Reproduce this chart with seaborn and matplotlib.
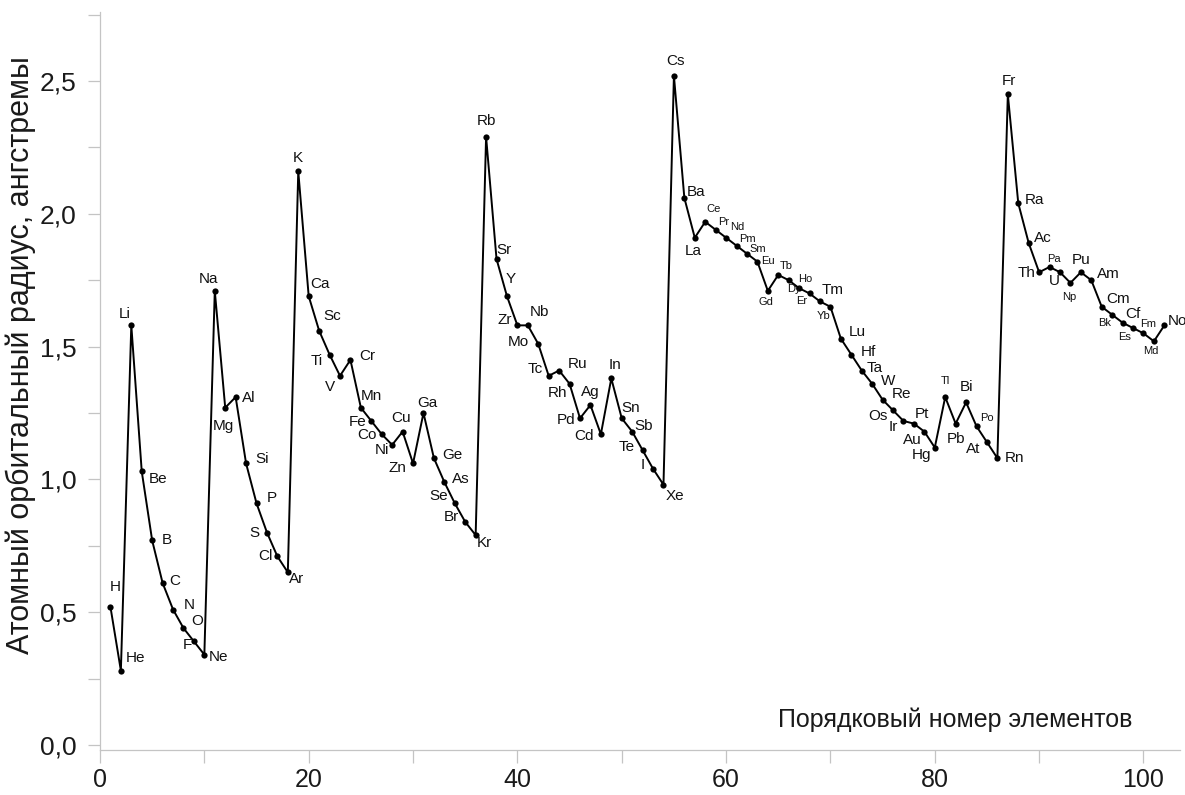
import matplotlib
matplotlib.use("Agg")
import matplotlib.pyplot as plt
from matplotlib.ticker import MultipleLocator, FuncFormatter
import seaborn as sns
import pandas as pd

# Element symbols (Z = 1 .. 102)
symbols = [
    "H", "He", "Li", "Be", "B", "C", "N", "O", "F", "Ne",
    "Na", "Mg", "Al", "Si", "P", "S", "Cl", "Ar",
    "K", "Ca", "Sc", "Ti", "V", "Cr", "Mn", "Fe", "Co", "Ni", "Cu", "Zn",
    "Ga", "Ge", "As", "Se", "Br", "Kr",
    "Rb", "Sr", "Y", "Zr", "Nb", "Mo", "Tc", "Ru", "Rh", "Pd", "Ag", "Cd",
    "In", "Sn", "Sb", "Te", "I", "Xe",
    "Cs", "Ba", "La", "Ce", "Pr", "Nd", "Pm", "Sm", "Eu", "Gd", "Tb", "Dy",
    "Ho", "Er", "Tm", "Yb", "Lu", "Hf", "Ta", "W", "Re", "Os", "Ir", "Pt",
    "Au", "Hg", "Tl", "Pb", "Bi", "Po", "At", "Rn",
    "Fr", "Ra", "Ac", "Th", "Pa", "U", "Np", "Pu", "Am", "Cm", "Bk", "Cf",
    "Es", "Fm", "Md", "No",
]

# Atomic orbital radius, angstrom
radius = [
    0.52, 0.28, 1.58, 1.03, 0.77, 0.61, 0.51, 0.44, 0.39, 0.34,
    1.71, 1.27, 1.31, 1.06, 0.91, 0.80, 0.71, 0.65,
    2.16, 1.69, 1.56, 1.47, 1.39, 1.45, 1.27, 1.22, 1.17, 1.13, 1.18, 1.06,
    1.25, 1.08, 0.99, 0.91, 0.84, 0.79,
    2.29, 1.83, 1.69, 1.58, 1.58, 1.51, 1.39, 1.41, 1.36, 1.23, 1.28, 1.17,
    1.38, 1.23, 1.18, 1.11, 1.04, 0.98,
    2.52, 2.06, 1.91, 1.97, 1.94, 1.91, 1.88, 1.85, 1.82, 1.71, 1.77, 1.75,
    1.72, 1.70, 1.67, 1.65, 1.53, 1.47, 1.41, 1.36, 1.30, 1.26, 1.22, 1.21,
    1.18, 1.12, 1.31, 1.21, 1.29, 1.20, 1.14, 1.08,
    2.45, 2.04, 1.89, 1.78, 1.80, 1.78, 1.74, 1.78, 1.75, 1.65, 1.62, 1.59,
    1.57, 1.55, 1.52, 1.58,
]

atomic_number = list(range(1, len(symbols) + 1))

x_tick_values = [0, 20, 40, 60, 80, 100]
y_tick_values = [0.0, 0.5, 1.0, 1.5, 2.0, 2.5]

x_title = "Порядковый номер элементов"
y_title = "Атомный орбитальный радиус, ангстремы"

# Label placement around each point (pixels: right, up)
label_offset = {
    "H": (5, 20), "He": (15, 13), "Li": (-7, 11), "Be": (16, -8), "B": (15, 0),
    "C": (12, 2), "N": (16, 5), "O": (14, 7), "F": (-7, -4), "Ne": (14, -2),
    "Na": (-6, 12), "Mg": (-2, -18), "Al": (13, -1), "Si": (16, 4), "P": (15, 5),
    "S": (-13, 0), "Cl": (-12, 0), "Ar": (9, -7),
    "K": (0, 13), "Ca": (11, 12), "Sc": (13, 15), "Ti": (-13, -6), "V": (-10, -11),
    "Cr": (17, 4), "Mn": (11, 12), "Fe": (-14, -1), "Co": (-15, -1), "Ni": (-10, -5),
    "Cu": (-2, 14), "Zn": (-16, -5), "Ga": (4, 10), "Ge": (18, 3), "As": (16, 3),
    "Se": (-16, 7), "Br": (-14, 5), "Kr": (9, -8),
    "Rb": (0, 16), "Sr": (7, 9), "Y": (4, 17), "Zr": (-13, 5), "Nb": (12, 13),
    "Mo": (-20, 2), "Tc": (-13, 7), "Ru": (18, 7), "Rh": (-12, -9), "Pd": (-14, -2),
    "Ag": (0, 13), "Cd": (-17, -2), "In": (4, 13), "Sn": (9, 10), "Sb": (11, 6),
    "Te": (-16, 3), "I": (-10, 4), "Xe": (11, -11),
    "Cs": (2, 15), "Ba": (12, 6), "La": (-2, -13), "Ce": (8, 13), "Pr": (8, 8),
    "Nd": (11, 11), "Pm": (11, 7), "Sm": (11, 5), "Eu": (11, 1), "Gd": (-2, -11),
    "Tb": (8, 9), "Dy": (5, -9), "Ho": (6, 9), "Er": (-8, -8), "Tm": (13, 11),
    "Yb": (-7, -9), "Lu": (16, 7), "Hf": (17, 3), "Ta": (13, 3), "W": (16, 3),
    "Re": (19, 6), "Os": (-15, -6), "Ir": (-10, -6), "Pt": (8, 10), "Au": (-12, -8),
    "Hg": (-13, -7), "Tl": (0, 16), "Pb": (0, -15), "Bi": (0, 15), "Po": (10, 8),
    "At": (-14, -7), "Rn": (17, 0),
    "Fr": (1, 13), "Ra": (16, 3), "Ac": (14, 5), "Th": (-13, -1), "Pa": (4, 8),
    "U": (-6, -9), "Np": (-1, -14), "Pu": (0, 12), "Am": (17, 6), "Cm": (16, 8),
    "Bk": (-8, -8), "Cf": (10, 9), "Es": (-8, -9), "Fm": (5, 9), "Md": (-3, -10),
    "No": (13, 4),
}
small_labels = {"Ce", "Pr", "Nd", "Pm", "Sm", "Eu", "Gd", "Tb", "Dy", "Ho", "Er",
                "Yb", "Tl", "Po", "Pa", "Np", "Bk", "Es", "Fm", "Md"}

df = pd.DataFrame({"Z": atomic_number, "r": radius, "symbol": symbols})

sns.set_style("ticks")
plt.rcParams["font.family"] = ["Liberation Sans", "DejaVu Sans"]

fig = plt.figure(figsize=(11.85, 7.95), dpi=100)
ax = fig.add_axes([100 / 1185, 45 / 795, 1080 / 1185, 738 / 795])

sns.lineplot(data=df, x="Z", y="r", ax=ax, color="black", linewidth=1.4,
             marker="o", markersize=4.5, markeredgewidth=0, sort=True)

for z, r, s in zip(df["Z"], df["r"], df["symbol"]):
    dx, dy = label_offset[s]
    ax.annotate(s, (z, r), xytext=(dx, dy), textcoords="offset pixels",
                ha="center", va="center", color="#111111",
                fontsize=8 if s in small_labels else 11)

ax.set_xlim(0, 103.5)
ax.set_ylim(-0.019, 2.76)

ax.set_xticks(x_tick_values)
ax.xaxis.set_minor_locator(MultipleLocator(10))
ax.set_yticks(y_tick_values)
ax.yaxis.set_minor_locator(MultipleLocator(0.25))
ax.yaxis.set_major_formatter(FuncFormatter(lambda v, _: f"{v:.1f}".replace(".", ",")))

spine_color = "#c4c4c4"
for side in ("top", "right"):
    ax.spines[side].set_visible(False)
for side in ("left", "bottom"):
    ax.spines[side].set_color(spine_color)
    ax.spines[side].set_linewidth(0.9)

ax.tick_params(which="both", direction="out", color=spine_color, width=0.9, length=9)
ax.tick_params(axis="y", which="major", labelsize=19, labelcolor="#1a1a1a", pad=8)
ax.tick_params(axis="x", which="major", labelsize=18, labelcolor="#1a1a1a", pad=4)

ax.set_xlabel(x_title, fontsize=18, color="#1a1a1a")
ax.xaxis.label.set_va("center")
ax.xaxis.set_label_coords(0.792, 0.041)

ax.set_ylabel(y_title, fontsize=22, color="#1a1a1a")
ax.yaxis.label.set_va("center")
ax.yaxis.set_label_coords(-0.073, 0.535)

fig.savefig("out.png", dpi=100, facecolor="white")
